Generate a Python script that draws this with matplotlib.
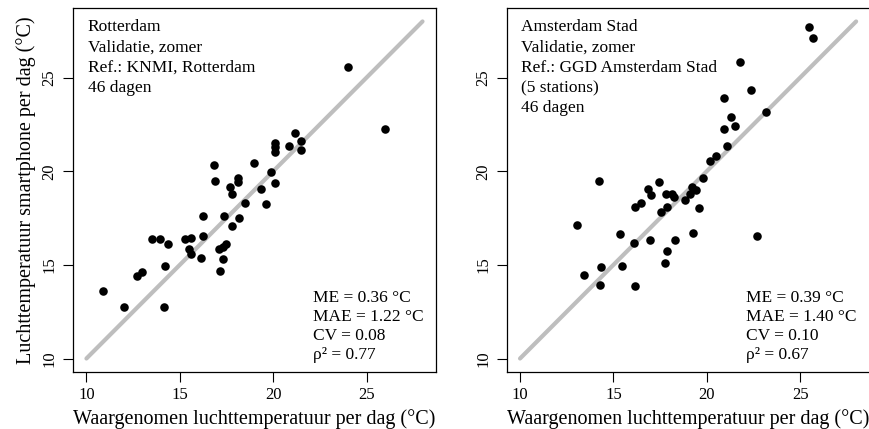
import matplotlib
matplotlib.use("Agg")
import matplotlib.pyplot as plt

plt.rcParams['font.family'] = ['Liberation Serif', 'DejaVu Serif']

# Rotterdam (observed x, smartphone y)
rdam_obs = [10.87, 12.03, 14.17, 12.69, 12.98, 14.22, 13.49, 13.94, 14.37, 15.29,
            15.61, 15.50, 15.60, 16.22, 16.22, 16.13, 17.38, 17.11, 17.29, 17.47,
            17.34, 17.17, 17.82, 18.18, 16.83, 16.90, 18.11, 18.11, 17.70, 17.79,
            18.50, 18.98, 19.34, 19.61, 19.88, 20.08, 20.12, 20.12, 20.12, 24.01,
            25.97, 21.18, 20.86, 21.47, 21.50]
rdam_phone = [13.60, 12.76, 12.76, 14.40, 14.64, 14.96, 16.40, 16.40, 16.12, 16.38,
              16.44, 15.84, 15.60, 16.52, 17.60, 15.36, 17.60, 15.84, 15.98, 16.11,
              15.31, 14.69, 17.06, 17.51, 20.33, 19.48, 19.66, 19.43, 19.14, 18.76,
              18.32, 20.45, 19.03, 18.23, 19.98, 19.39, 21.50, 21.27, 21.05, 25.58,
              22.26, 22.05, 21.36, 21.13, 21.60]

# Amsterdam Stad
adam_obs = [13.05, 13.44, 14.25, 14.35, 14.30, 15.34, 15.48, 16.09, 16.15, 16.18,
            16.49, 16.83, 16.99, 16.97, 17.42, 17.53, 17.80, 17.89, 18.14, 18.24,
            17.87, 17.78, 18.32, 18.85, 19.12, 19.23, 19.41, 19.59, 19.29, 19.80,
            20.18, 20.48, 21.06, 20.93, 21.50, 21.29, 20.90, 22.38, 21.77, 23.17,
            25.50, 25.68, 22.67]
adam_phone = [17.15, 14.46, 19.50, 14.88, 13.94, 16.63, 14.96, 16.17, 13.85, 18.10,
              18.33, 19.05, 18.73, 16.34, 19.41, 17.83, 18.76, 18.10, 18.76, 18.62,
              15.74, 15.09, 16.34, 18.47, 18.78, 19.18, 19.00, 18.02, 16.68, 19.62,
              20.55, 20.79, 21.36, 22.27, 22.40, 22.90, 23.89, 24.32, 25.86, 23.17,
              27.72, 27.10, 16.54]

rdam_info = ["Rotterdam", "Validatie, zomer", "Ref.: KNMI, Rotterdam", "46 dagen"]
adam_info = ["Amsterdam Stad", "Validatie, zomer", "Ref.: GGD Amsterdam Stad",
             "(5 stations)", "46 dagen"]
rdam_stats = ["ME = 0.36 °C", "MAE = 1.22 °C", "CV = 0.08", "ρ² = 0.77"]
adam_stats = ["ME = 0.39 °C", "MAE = 1.40 °C", "CV = 0.10", "ρ² = 0.67"]

ticks = [10, 15, 20, 25]
lim = (9.28, 28.72)

fig = plt.figure(figsize=(8.7, 4.29), dpi=100)
ax1 = fig.add_axes([0.0839, 0.1329, 0.4172, 0.8485])
ax2 = fig.add_axes([0.5823, 0.1329, 0.4172, 0.8485])


def panel(ax, x, y, info, stats):
    ax.plot([10, 28], [10, 28], color='#BEBEBE', lw=3, solid_capstyle='round', zorder=1)
    ax.scatter(x, y, s=38, color='black', zorder=2, linewidths=0)
    ax.set_xlim(lim)
    ax.set_ylim(lim)
    ax.set_xticks(ticks)
    ax.set_yticks(ticks)
    ax.tick_params(direction='out', length=7, width=0.8, labelsize=12, pad=4)
    for lab in ax.get_yticklabels():
        lab.set_rotation(90)
        lab.set_va('center')
    for sp in ax.spines.values():
        sp.set_linewidth(0.9)
    ax.set_xlabel("Waargenomen luchttemperatuur per dag (°C)", fontsize=14.5, labelpad=4)
    for i, t in enumerate(info):
        ax.text(0.04, 0.97 - i * 0.056, t, transform=ax.transAxes,
                fontsize=12.5, va='top', ha='left')
    for i, t in enumerate(stats):
        ax.text(0.66, 0.225 - i * 0.052, t, transform=ax.transAxes,
                fontsize=12.5, va='top', ha='left')


panel(ax1, rdam_obs, rdam_phone, rdam_info, rdam_stats)
panel(ax2, adam_obs, adam_phone, adam_info, adam_stats)
ax1.set_ylabel("Luchttemperatuur smartphone per dag (°C)", fontsize=14.5, labelpad=4)

fig.savefig("out.png", dpi=100)
